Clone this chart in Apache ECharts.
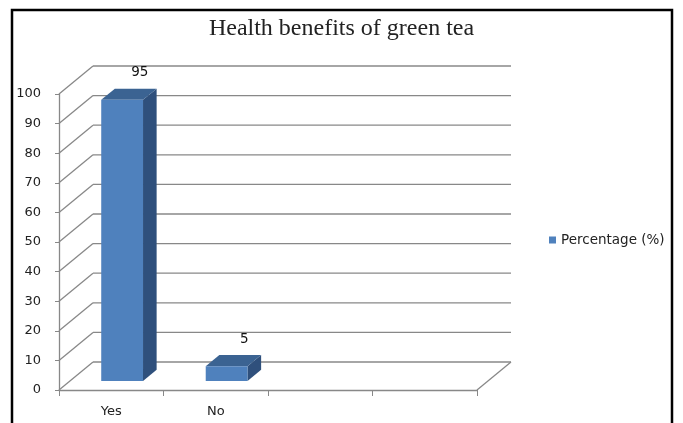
<!DOCTYPE html>
<html>
<head>
<meta charset="utf-8">
<style>
  html, body { margin: 0; padding: 0; background: #fff; }
  #chart { width: 683px; height: 423px; }
</style>
<script src="https://cdn.jsdelivr.net/npm/echarts@6/dist/echarts.min.js"></script>
</head>
<body>
<div id="chart"></div>
<script>
// Survey answers: does green tea have health benefits?
const CATEGORIES = ['Yes', 'No', '', ''];
const PERCENTAGE = [95, 5];
const SERIES_NAME = 'Percentage (%)';
const Y_TICKS = [0, 10, 20, 30, 40, 50, 60, 70, 80, 90, 100];

// Oblique projection used for the pseudo-3D walls and columns
const DEPTH_X = 34;
const DEPTH_Y = -28;
const COL_FRONT = 0.32;   // depth fraction of the column's front face
const COL_BACK = 0.72;    // depth fraction of the column's back face
const COL_WIDTH = 0.40;   // column width as a share of the category band

const WALL_COLOR = '#888888';
const FACE_FRONT = '#4F81BD';
const FACE_TOP = '#3B6392';
const FACE_SIDE = '#2F507C';
const TEXT_FONT = 'DejaVu Sans';

const chart = echarts.init(document.getElementById('chart'), null, { renderer: 'canvas' });

// Left wall diagonals, back wall gridlines and the floor's right edge
function renderWalls(params, api) {
  const cs = params.coordSys;
  const v = api.value(1);
  const y = api.coord([0, v])[1];
  const left = cs.x;
  const right = cs.x + cs.width;
  const line = (x1, y1, x2, y2) => ({
    type: 'line',
    shape: { x1, y1, x2, y2 },
    style: { stroke: WALL_COLOR, lineWidth: 1.3 }
  });
  const children = [
    line(left, y, left + DEPTH_X, y + DEPTH_Y),
    line(left + DEPTH_X, y + DEPTH_Y, right + DEPTH_X, y + DEPTH_Y)
  ];
  if (v === 0) {
    children.push(line(right, y, right + DEPTH_X, y + DEPTH_Y));
  }
  return { type: 'group', children };
}

// Box-shaped columns: front, top and right faces plus the value label
function renderColumn(params, api) {
  const idx = api.value(0);
  const val = api.value(1);
  const base = api.coord([idx, 0]);
  const top = api.coord([idx, val]);
  const w = api.size([1, 0])[0] * COL_WIDTH;
  const x0 = base[0] - w / 2;
  const fx = COL_FRONT * DEPTH_X, fy = COL_FRONT * DEPTH_Y;
  const bx = COL_BACK * DEPTH_X, by = COL_BACK * DEPTH_Y;
  const yb = base[1], yt = top[1];
  return {
    type: 'group',
    children: [
      {
        type: 'polygon',
        shape: { points: [[x0 + w + fx, yt + fy], [x0 + w + bx, yt + by], [x0 + w + bx, yb + by], [x0 + w + fx, yb + fy]] },
        style: { fill: FACE_SIDE }
      },
      {
        type: 'polygon',
        shape: { points: [[x0 + fx, yt + fy], [x0 + w + fx, yt + fy], [x0 + w + bx, yt + by], [x0 + bx, yt + by]] },
        style: { fill: FACE_TOP }
      },
      {
        type: 'rect',
        shape: { x: x0 + fx, y: yt + fy, width: w, height: yb - yt },
        style: { fill: FACE_FRONT }
      },
      {
        type: 'text',
        style: {
          text: String(val),
          x: base[0] + bx + 4,
          y: yt + by - 16,
          align: 'center',
          verticalAlign: 'middle',
          fontSize: 13.5,
          fontFamily: TEXT_FONT,
          fill: '#111'
        }
      }
    ]
  };
}

chart.setOption({
  animation: false,
  backgroundColor: '#ffffff',
  title: {
    text: 'Health benefits of green tea',
    left: 'center',
    top: 12,
    textStyle: {
      fontFamily: 'Liberation Serif',
      fontSize: 24,
      fontWeight: 'normal',
      color: '#222'
    }
  },
  legend: {
    data: [SERIES_NAME],
    left: 549,
    top: 233,
    padding: 0,
    orient: 'vertical',
    icon: 'rect',
    itemWidth: 7,
    itemHeight: 7,
    textStyle: { fontFamily: TEXT_FONT, fontSize: 13.5, color: '#222' }
  },
  grid: { left: 59, right: 206, top: 94, bottom: 33 },
  xAxis: {
    type: 'category',
    data: CATEGORIES,
    boundaryGap: true,
    axisLine: { show: true, lineStyle: { color: WALL_COLOR, width: 1.3 } },
    axisTick: { show: true, alignWithLabel: false, length: 6, lineStyle: { color: WALL_COLOR } },
    axisLabel: { margin: 15, fontFamily: TEXT_FONT, fontSize: 13, color: '#222' },
    splitLine: { show: false }
  },
  yAxis: {
    type: 'value',
    min: 0,
    max: 100,
    interval: 10,
    axisLine: { show: true, lineStyle: { color: WALL_COLOR, width: 1.3 } },
    axisTick: { show: true, length: 4, lineStyle: { color: WALL_COLOR } },
    axisLabel: { margin: 18, fontFamily: TEXT_FONT, fontSize: 13, color: '#222' },
    splitLine: { show: false }
  },
  graphic: [
    {
      type: 'rect',
      shape: { x: 12, y: 10, width: 660, height: 430 },
      style: { fill: 'none', stroke: '#000', lineWidth: 2.5 },
      silent: true
    }
  ],
  series: [
    {
      type: 'custom',
      name: 'walls',
      renderItem: renderWalls,
      data: Y_TICKS.map(v => [0, v]),
      encode: { x: 0, y: 1 },
      z: 1,
      silent: true
    },
    {
      type: 'custom',
      name: SERIES_NAME,
      renderItem: renderColumn,
      itemStyle: { color: FACE_FRONT },
      data: PERCENTAGE.map((v, i) => [i, v]),
      encode: { x: 0, y: 1 },
      z: 3
    }
  ]
});
</script>
</body>
</html>
